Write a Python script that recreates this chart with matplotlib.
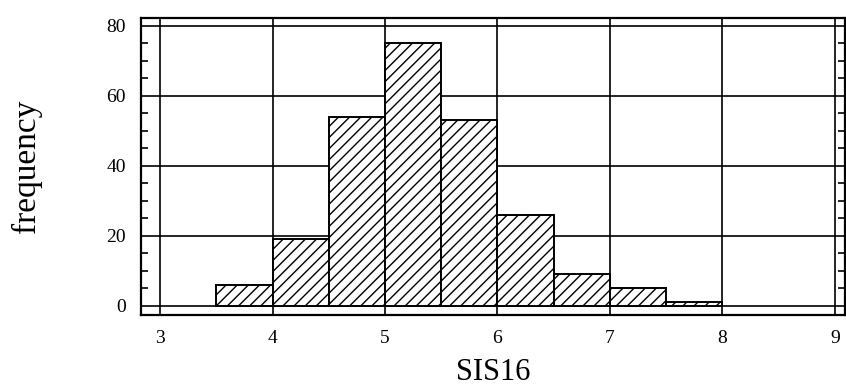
import numpy as np
import matplotlib
matplotlib.use("Agg")
import matplotlib.pyplot as plt
from matplotlib.ticker import MultipleLocator

# histogram of SIS16
bin_edges = [3.5, 4.0, 4.5, 5.0, 5.5, 6.0, 6.5, 7.0, 7.5, 8.0]
counts    = [6, 19, 54, 75, 53, 26, 9, 5, 1]
x_ticks   = [3, 4, 5, 6, 7, 8, 9]
y_ticks   = [0, 20, 40, 60, 80]

plt.rcParams['font.family'] = ['Liberation Serif', 'DejaVu Serif']
plt.rcParams['hatch.linewidth'] = 1.0

def main():
    fig = plt.figure(figsize=(8.46, 3.89), dpi=100)
    ax = fig.add_axes([0.1667, 0.19, 0.832, 0.764])

    edges = np.array(bin_edges)
    ax.bar(edges[:-1], counts, width=np.diff(edges), align='edge',
           facecolor='white', edgecolor='black', linewidth=1.4,
           hatch='///', zorder=3)

    ax.set_xlim(2.83, 9.09)
    ax.set_ylim(-2.6, 82.3)
    ax.set_xticks(x_ticks)
    ax.set_yticks(y_ticks)
    ax.yaxis.set_minor_locator(MultipleLocator(5))
    ax.tick_params(axis='x', which='major', length=0, labelsize=14, pad=11)
    ax.tick_params(axis='y', which='major', length=0, labelsize=14, pad=11)
    ax.tick_params(axis='y', which='minor', direction='in', length=5,
                   width=1.2, left=True, right=True)
    ax.grid(True, which='major', color='black', linewidth=1.2, zorder=1)
    ax.set_axisbelow(True)
    for s in ax.spines.values():
        s.set_linewidth(1.6)

    ax.set_xlabel('SIS16', fontsize=22, labelpad=8)
    ax.set_ylabel('frequency', fontsize=24, labelpad=46)

    fig.savefig('out.png', dpi=100)

if __name__ == '__main__':
    main()
